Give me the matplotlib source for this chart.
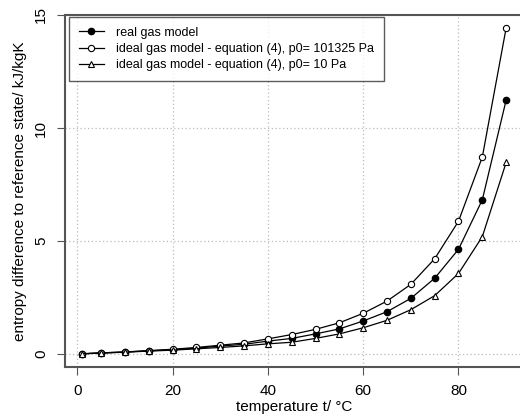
import matplotlib
matplotlib.use("Agg")
import matplotlib.pyplot as plt

plt.rcParams["font.family"] = ["Liberation Sans", "DejaVu Sans"]

# temperature points [°C]
temperature = [1, 5, 10, 15, 20, 25, 30, 35, 40, 45, 50, 55, 60, 65, 70, 75, 80, 85, 90]

# entropy difference to reference state [kJ/kgK]
s_real = [0.02, 0.06, 0.10, 0.15, 0.20, 0.27, 0.36, 0.44, 0.58, 0.70, 0.90, 1.12,
          1.47, 1.88, 2.47, 3.36, 4.64, 6.83, 11.24]
s_ideal_atm = [0.02, 0.06, 0.10, 0.16, 0.22, 0.30, 0.40, 0.50, 0.68, 0.87, 1.10, 1.39,
               1.81, 2.35, 3.09, 4.22, 5.88, 8.72, 14.43]
s_ideal_10 = [0.02, 0.05, 0.09, 0.14, 0.18, 0.24, 0.30, 0.37, 0.46, 0.53, 0.70, 0.90,
              1.17, 1.50, 1.97, 2.59, 3.57, 5.20, 8.48]

labels = ["real gas model",
          "ideal gas model - equation (4), p0= 101325 Pa",
          "ideal gas model - equation (4), p0= 10 Pa"]

fig = plt.figure(figsize=(5.2, 4.16), dpi=100)
ax = fig.add_axes([0.125, 0.118, 0.881, 0.846])

ax.grid(True, color="#bbbbbb", linestyle=(0, (1, 2)), lw=0.9)
ax.set_axisbelow(True)

ax.plot(temperature, s_real, "-", color="black", lw=0.9, marker="o", ms=4.5,
        mfc="black", mec="black", label=labels[0])
ax.plot(temperature, s_ideal_atm, "-", color="black", lw=0.9, marker="o", ms=4.5,
        mfc="white", mec="black", mew=0.8, label=labels[1])
ax.plot(temperature, s_ideal_10, "-", color="black", lw=0.9, marker="^", ms=5,
        mfc="white", mec="black", mew=0.8, label=labels[2])

ax.set_xlim(-2.56, 93.56)
ax.set_ylim(-0.56, 15.0)
ax.set_xticks([0, 20, 40, 60, 80])
ax.set_yticks([0, 5, 10, 15])
ax.set_yticklabels(["0", "5", "10", "15"], rotation=90, va="center")

for sp in ax.spines.values():
    sp.set_color("#555555")
    sp.set_linewidth(1.5)
ax.tick_params(direction="out", length=6, width=0.8, color="#555555",
               labelsize=11, pad=6)

ax.set_xlabel("temperature t/ °C", fontsize=11, labelpad=2)
ax.set_ylabel("entropy difference to reference state/ kJ/kgK", fontsize=11,
              labelpad=5)

leg = ax.legend(loc="upper left", bbox_to_anchor=(0.008, 0.995), fontsize=9,
                frameon=True, fancybox=False, edgecolor="#333333",
                handlelength=2.0, handletextpad=1.0, borderpad=0.8,
                labelspacing=0.35, borderaxespad=0.0)
leg.get_frame().set_linewidth(1.0)

fig.savefig("out.png", dpi=100)
